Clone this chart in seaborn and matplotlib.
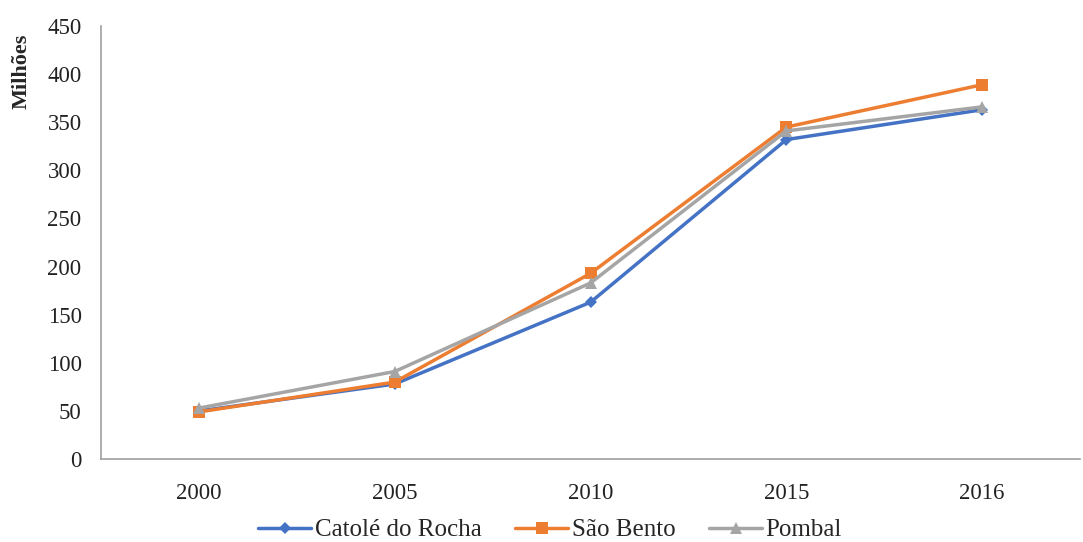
import matplotlib
matplotlib.use("Agg")
import matplotlib.pyplot as plt
import seaborn as sns
import pandas as pd

years = ["2000", "2005", "2010", "2015", "2016"]
catole = [50, 78, 163, 332, 363]
sao_bento = [49, 80, 193, 345, 389]
pombal = [53, 91, 183, 341, 366]
series_names = ["Catolé do Rocha", "São Bento", "Pombal"]
y_ticks = [0, 50, 100, 150, 200, 250, 300, 350, 400, 450]

sns.set_theme(style="white")
plt.rcParams["font.family"] = ["Liberation Serif", "DejaVu Serif"]

rows = []
for name, vals in zip(series_names, [catole, sao_bento, pombal]):
    for yr, v in zip(years, vals):
        rows.append({"Ano": yr, "Valor": v, "Série": name})
df = pd.DataFrame(rows)

palette = {"Catolé do Rocha": "#4472C4", "São Bento": "#ED7D31", "Pombal": "#A5A5A5"}
markers = {"Catolé do Rocha": "D", "São Bento": "s", "Pombal": "^"}

fig = plt.figure(figsize=(10.83, 5.42), dpi=100)
ax = fig.add_axes([0.0933, 0.153, 0.904, 0.799])

sns.lineplot(data=df, x="Ano", y="Valor", hue="Série", style="Série",
             palette=palette, markers=markers, dashes=False,
             linewidth=2.5, markersize=8, markeredgewidth=0,
             sort=False, ax=ax, legend="full")
for ln in ax.lines:
    if ln.get_marker() == "D":
        ln.set_markersize(6.5)

ax.set_xlim(-0.5, 4.5)
ax.set_ylim(0, 450)
ax.set_yticks(y_ticks)
ax.set_xlabel("")
ax.set_ylabel("Milhões", fontsize=16, fontweight="bold")
ax.yaxis.set_label_coords(-0.071, 0.895)
ax.tick_params(axis="x", labelsize=16.5, length=0, colors="#222222", pad=17)
ax.tick_params(axis="y", labelsize=16.5, length=0, colors="#222222", pad=14)

for side in ["top", "right"]:
    ax.spines[side].set_visible(False)
for side in ["left", "bottom"]:
    ax.spines[side].set_color("#A0A0A0")
    ax.spines[side].set_linewidth(1.2)
ax.grid(False)

handles, labels = ax.get_legend_handles_labels()
ax.legend(handles, labels, loc="center", bbox_to_anchor=(0.508, 0.022),
          bbox_transform=fig.transFigure, ncol=3, frameon=False,
          fontsize=18, handlelength=2.1, columnspacing=1.36, handletextpad=0.15,
          borderpad=0.0)

fig.savefig("out.png", dpi=100)
